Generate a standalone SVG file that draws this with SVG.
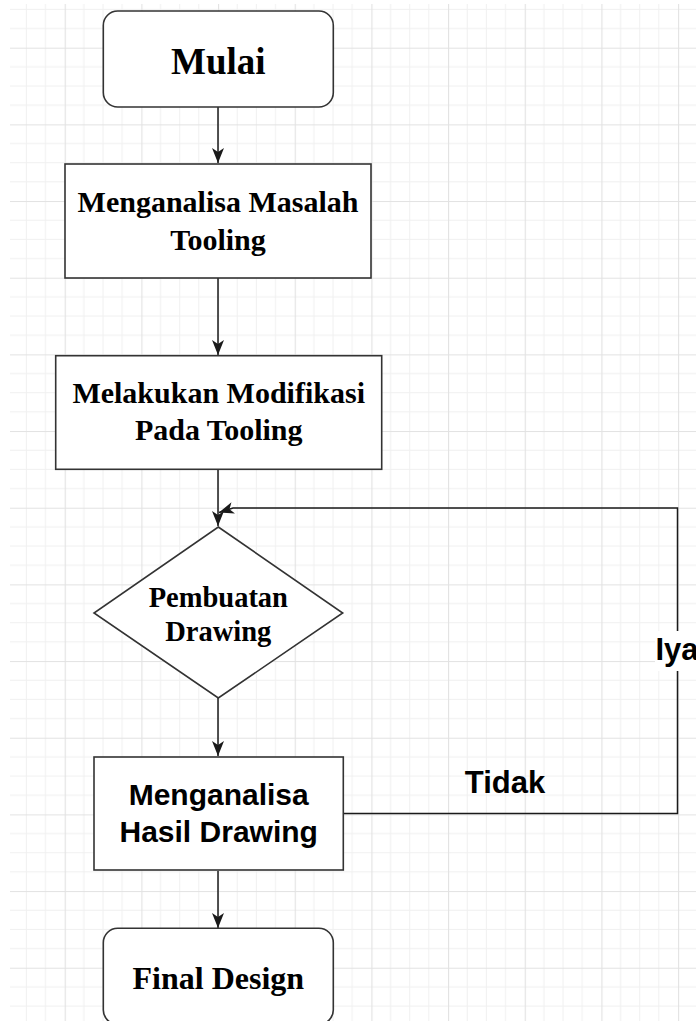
<svg xmlns="http://www.w3.org/2000/svg" width="696" height="1021" viewBox="0 0 696 1021">
  <defs>
    <pattern id="grid" patternUnits="userSpaceOnUse" x="64.7" y="47.7" width="76.67" height="76.67">
      <path d="M19.17,0 V76.67 M38.33,0 V76.67 M57.5,0 V76.67 M0,19.17 H76.67 M0,38.33 H76.67 M0,57.5 H76.67" stroke="#f0f0f0" stroke-width="1" fill="none"/>
      <path d="M0.5,0 V76.67 M0,0.5 H76.67" stroke="#e2e2e2" stroke-width="1.2" fill="none"/>
    </pattern>
    <marker id="arrow" markerUnits="userSpaceOnUse" viewBox="0 0 15 12" refX="15" refY="6" markerWidth="15" markerHeight="12" orient="auto">
      <path d="M0,0 L15,6 L0,12 L4,6 Z" fill="#1a1a1a"/>
    </marker>
  </defs>
  <style>
    .node { fill: #ffffff; stroke: #333333; stroke-width: 1.6; }
    .serif { font-family: "Liberation Serif", "Times New Roman", serif; font-weight: bold; fill: #000000; text-anchor: middle; }
    .sans { font-family: "Liberation Sans", Arial, sans-serif; font-weight: bold; fill: #000000; text-anchor: middle; }
    .conn { fill: none; stroke: #1a1a1a; stroke-width: 1.5; }
  </style>

  <rect x="0" y="0" width="696" height="1021" fill="#ffffff"/>
  <rect x="10" y="4" width="686" height="1017" fill="url(#grid)"/>

  <g id="connectors">
    <path class="conn" d="M218,107 V163" marker-end="url(#arrow)"/>
    <path class="conn" d="M218,278 V355" marker-end="url(#arrow)"/>
    <path class="conn" d="M218,470 V526" marker-end="url(#arrow)"/>
    <path class="conn" d="M218,698 V756" marker-end="url(#arrow)"/>
    <path class="conn" d="M218,871 V928" marker-end="url(#arrow)"/>
    <path class="conn" d="M344,813.5 H677.5 V508 H233 L219,512.5" marker-end="url(#arrow)"/>
    <g id="label-iya">
      <rect x="655" y="631" width="45" height="40" fill="#ffffff"/>
      <text class="sans" x="677" y="660" font-size="31">Iya</text>
    </g>
    <g id="label-tidak">
      <text class="sans" x="505" y="793" font-size="31">Tidak</text>
    </g>
  </g>

  <g id="mulai">
    <rect class="node" x="103.3" y="11" width="230" height="96" rx="14.4" ry="14.4"/>
    <text class="serif" x="218.3" y="74" font-size="37">Mulai</text>
  </g>

  <g id="menganalisa-masalah">
    <rect class="node" x="65" y="164" width="306" height="114"/>
    <text class="serif" x="218" y="211.5" font-size="30">Menganalisa Masalah</text>
    <text class="serif" x="218" y="250" font-size="30">Tooling</text>
  </g>

  <g id="melakukan-modifikasi">
    <rect class="node" x="55.7" y="355.7" width="326" height="113.6"/>
    <text class="serif" x="218.7" y="402.7" font-size="30">Melakukan Modifikasi</text>
    <text class="serif" x="218.7" y="440" font-size="30">Pada Tooling</text>
  </g>

  <g id="pembuatan-drawing">
    <polygon class="node" points="218.3,527 342.7,613 218.3,698 94,613"/>
    <text class="serif" x="218.3" y="606.7" font-size="28.5">Pembuatan</text>
    <text class="serif" x="218.3" y="640.7" font-size="28.5">Drawing</text>
  </g>

  <g id="menganalisa-hasil">
    <rect class="node" x="94" y="757" width="249.3" height="113"/>
    <text class="sans" x="218.7" y="805" font-size="30">Menganalisa</text>
    <text class="sans" x="218.7" y="841.7" font-size="30">Hasil Drawing</text>
  </g>

  <g id="final-design">
    <rect class="node" x="103.3" y="928.3" width="230" height="96" rx="14.4" ry="14.4"/>
    <text class="serif" x="218.3" y="989.3" font-size="32">Final Design</text>
  </g>
</svg>
